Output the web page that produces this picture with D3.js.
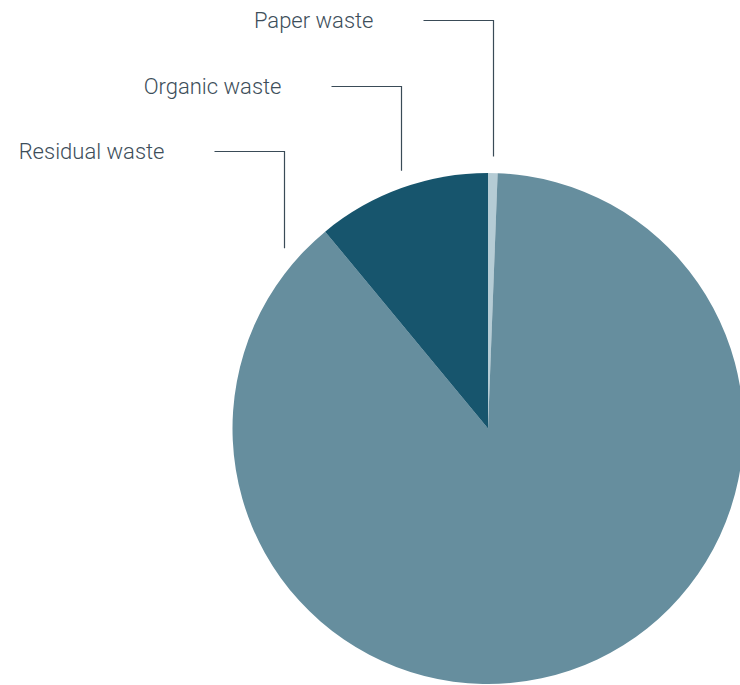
<!DOCTYPE html>
<html>
<head>
<meta charset="utf-8">
<script src="https://cdn.jsdelivr.net/npm/d3@7"></script>
<style>
  html, body { margin: 0; padding: 0; background: #ffffff; }
  svg { display: block; }
</style>
</head>
<body>
<svg id="chart" width="740" height="685"></svg>
<script>
// ---- data ----
const categories = ["Paper waste", "Residual waste", "Organic waste"];
const values = [0.6, 88.4, 11.0];
const colors = ["#b5ccd5", "#668e9e", "#17556d"];

// ---- layout ----
const width = 740, height = 685;
const cx = 488, cy = 428.5, radius = 255.5;
const svg = d3.select("#chart");

const pie = d3.pie().sort(null).value(d => d.value);
const arcs = pie(categories.map((c, i) => ({ name: c, value: values[i], color: colors[i] })));
const arc = d3.arc().innerRadius(0).outerRadius(radius);

const g = svg.append("g").attr("transform", `translate(${cx},${cy})`);
g.selectAll("path").data(arcs).enter().append("path")
  .attr("d", arc)
  .attr("fill", d => d.data.color);

// label leader lines ending ~17px outside the pie
const anchorR = radius + 16.5;
const labelY = { "Paper waste": 20, "Organic waste": 86, "Residual waste": 151 };
function anchorAngle(d) {
  if (d.data.name === "Residual waste") return d.endAngle - 0.155;
  if (d.data.name === "Organic waste") return (d.startAngle + d.endAngle) / 2 + 0.02;
  return (d.startAngle + d.endAngle) / 2;
}
const lg = svg.append("g");
arcs.forEach(d => {
  const a = anchorAngle(d);
  const x = cx + anchorR * Math.sin(a);
  const yEnd = cy - anchorR * Math.cos(a);
  const y = labelY[d.data.name];
  const xr = Math.round(x) + 0.5;
  lg.append("path")
    .attr("d", `M${xr - 70},${y + 0.5}H${xr}V${yEnd}`)
    .attr("fill", "none")
    .attr("stroke", "#3a4b57")
    .attr("stroke-width", 1.2);
  lg.append("text")
    .attr("x", xr - 120)
    .attr("y", y)
    .attr("dy", "0.35em")
    .attr("text-anchor", "end")
    .attr("font-family", "Roboto, sans-serif")
    .attr("font-weight", 300)
    .attr("font-size", 22)
    .attr("fill", "#3d4e5a")
    .text(d.data.name);
});
</script>
</body>
</html>
